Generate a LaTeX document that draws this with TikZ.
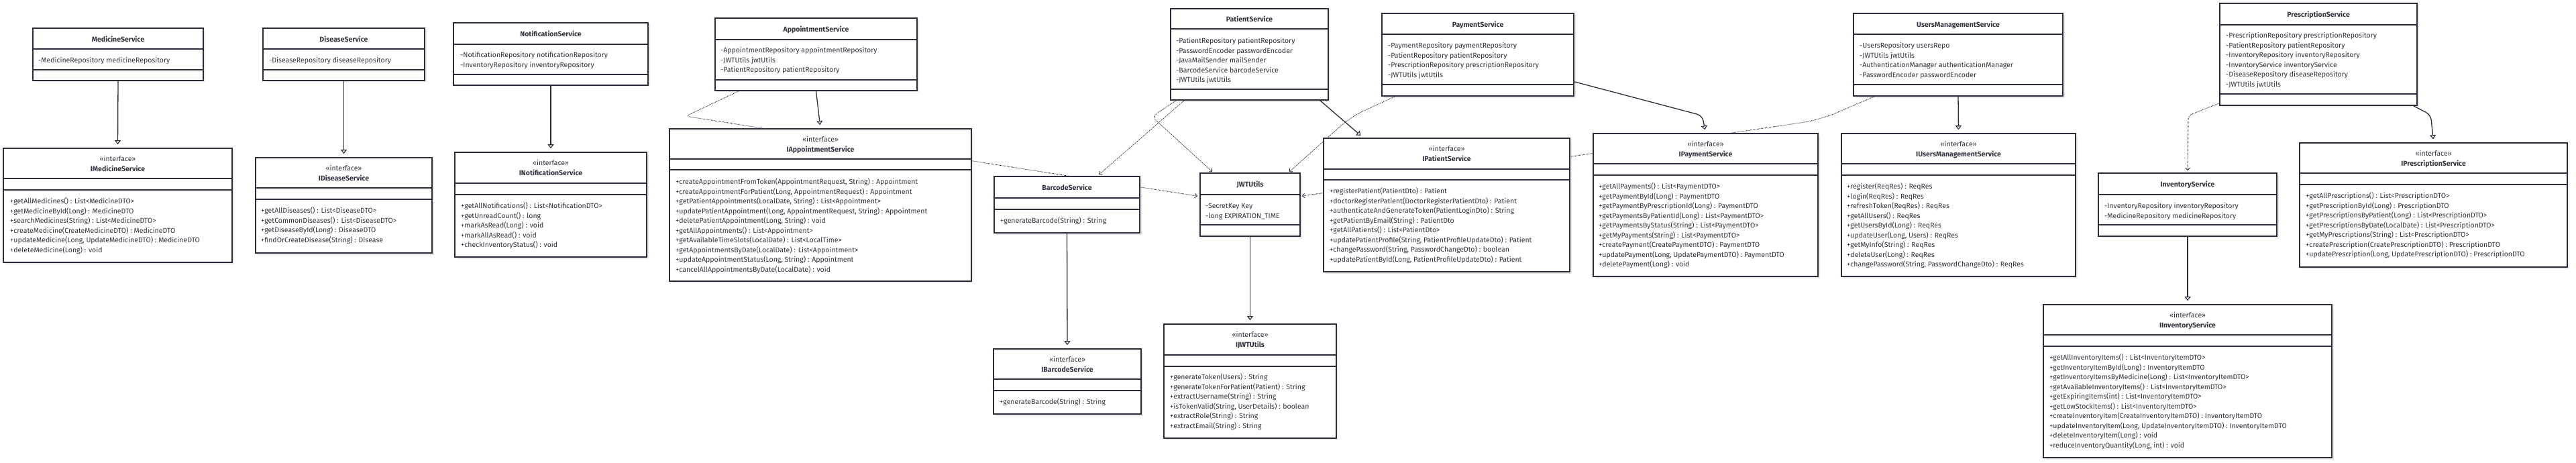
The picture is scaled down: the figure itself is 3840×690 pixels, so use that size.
\documentclass[tikz,border=0pt]{standalone}
\usepackage{fontspec}
\setmainfont{Fira Sans}
\usetikzlibrary{arrows.meta,calc,fit,shadows}
\definecolor{bd}{HTML}{2E2C3B}
\definecolor{tx}{HTML}{333340}
\pgfdeclarelayer{back}
\pgfdeclarelayer{edges}
\pgfsetlayers{back,edges,main}
\tikzset{
  box/.style={draw=bd, line width=1.6pt, fill=white, inner sep=0pt,
    drop shadow={shadow xshift=2.5pt, shadow yshift=-2.5pt, fill=black, opacity=0.08}},
  dv/.style={draw=bd, line width=1.2pt},
  txt/.style={font=\fontsize{10.5}{12}\selectfont, text=tx, inner sep=0pt,
    text height=7.2pt, text depth=0pt, anchor=west},
  ttl/.style={font=\fontsize{10.5}{12}\selectfont\bfseries, text=tx, inner sep=0pt,
    text height=7.2pt, text depth=0pt},
  ster/.style={font=\fontsize{10.5}{12}\selectfont, text=tx, inner sep=0pt,
    text height=7.2pt, text depth=0pt},
  real/.style={draw=bd, line width=1.3pt, shorten >=5pt,
    -{Triangle[open, length=6pt, width=9pt, fill=white, line width=1.1pt]}},
  dep/.style={draw=bd, line width=0.9pt, dash pattern=on 1pt off 1pt,
    -{Straight Barb[length=3.5pt, width=6.5pt, line width=0.9pt]}}
}
\newcommand{\cbox}[8]{%
  \node[box, fit={(#2,#3) (#4,#5)}] (#1) {};
  \draw[dv] (#2,#6) -- (#4,#6);
  \draw[dv] (#2,#7) -- (#4,#7);
  \node[ttl] at ({(#2+#4)/2},{(#3+#6)/2+1}) {#8};}
\newcommand{\ibox}[8]{%
  \node[box, fit={(#2,#3) (#4,#5)}] (#1) {};
  \draw[dv] (#2,#6) -- (#4,#6);
  \draw[dv] (#2,#7) -- (#4,#7);
  \node[ster] at ({(#2+#4)/2},{#3+16}) {«interface»};
  \node[ttl] at ({(#2+#4)/2},{#3+31}) {#8};}
\newcommand{\lns}[3]{\foreach \t [count=\i from 0] in {#3} {\node[txt] at (#1,{#2+\i*14.5}) {\t};}}
\begin{document}
\begin{tikzpicture}[x=1pt,y=-1pt]
\useasboundingbox (0,0) rectangle (3840,690);
\begin{pgfonlayer}{back}
\fill[white] (0,0) rectangle (3840,690);
\end{pgfonlayer}

% ---------- Medicine
\cbox{ms}{49}{42}{303}{120}{73}{104}{MedicineService}
\lns{57}{90}{-MedicineRepository medicineRepository}
\ibox{ims}{5}{221}{346}{391}{266}{283}{IMedicineService}
\lns{15}{300}{{+getAllMedicines() : List<MedicineDTO>},{+getMedicineById(Long) : MedicineDTO},{+searchMedicines(String) : List<MedicineDTO>},{+createMedicine(CreateMedicineDTO) : MedicineDTO},{+updateMedicine(Long, UpdateMedicineDTO) : MedicineDTO},{+deleteMedicine(Long) : void}}

% ---------- Disease
\cbox{ds}{392}{42}{633}{120}{73}{104}{DiseaseService}
\lns{401}{90}{-DiseaseRepository diseaseRepository}
\ibox{ids}{381}{235}{644}{377}{280}{297}{IDiseaseService}
\lns{389}{314}{{+getAllDiseases() : List<DiseaseDTO>},{+getCommonDiseases() : List<DiseaseDTO>},{+getDiseaseById(Long) : DiseaseDTO},{+findOrCreateDisease(String) : Disease}}

% ---------- Notification
\cbox{ns}{676}{34}{966}{127}{66}{111}{NotificationService}
\lns{686}{82}{-NotificationRepository notificationRepository,-InventoryRepository inventoryRepository}
\ibox{ins}{678}{227}{964}{383}{273}{290}{INotificationService}
\lns{687}{307}{{+getAllNotifications() : List<NotificationDTO>},{+getUnreadCount() : long},{+markAsRead(Long) : void},{+markAllAsRead() : void},{+checkInventoryStatus() : void}}

% ---------- Appointment
\cbox{as}{1066}{27}{1367}{135}{59}{119}{AppointmentService}
\lns{1074}{75}{-AppointmentRepository appointmentRepository,-JWTUtils jwtUtils,-PatientRepository patientRepository}
\ibox{ias}{998}{192}{1448}{419}{237}{253}{IAppointmentService}
\lns{1007}{271}{{+createAppointmentFromToken(AppointmentRequest, String) : Appointment},{+createAppointmentForPatient(Long, AppointmentRequest) : Appointment},{+getPatientAppointments(LocalDate, String) : List<Appointment>},{+updatePatientAppointment(Long, AppointmentRequest, String) : Appointment},{+deletePatientAppointment(Long, String) : void},{+getAllAppointments() : List<Appointment>},{+getAvailableTimeSlots(LocalDate) : List<LocalTime>},{+getAppointmentsByDate(LocalDate) : List<Appointment>},{+updateAppointmentStatus(Long, String) : Appointment},{+cancelAllAppointmentsByDate(LocalDate) : void}}

% ---------- Patient
\cbox{ps}{1745}{13}{1980}{149}{43}{133}{PatientService}
\lns{1753}{61}{-PatientRepository patientRepository,-PasswordEncoder passwordEncoder,-JavaMailSender mailSender,-BarcodeService barcodeService,-JWTUtils jwtUtils}
\ibox{ips}{1973}{206}{2340}{405}{252}{268}{IPatientService}
\lns{1982}{285}{{+registerPatient(PatientDto) : Patient},{+doctorRegisterPatient(DoctorRegisterPatientDto) : Patient},{+authenticateAndGenerateToken(PatientLoginDto) : String},{+getPatientByEmail(String) : PatientDto},{+getAllPatients() : List<PatientDto>},{+updatePatientProfile(String, PatientProfileUpdateDto) : Patient},{+changePassword(String, PasswordChangeDto) : boolean},{+updatePatientById(Long, PatientProfileUpdateDto) : Patient}}

% ---------- Barcode
\cbox{bs}{1482}{263}{1699}{347}{295}{312}{BarcodeService}
\lns{1491}{329}{{+generateBarcode(String) : String}}
\ibox{ibs}{1481}{520}{1701}{617}{565}{582}{IBarcodeService}
\lns{1490}{599}{{+generateBarcode(String) : String}}

% ---------- JWT
\cbox{jw}{1789}{258}{1938}{352}{290}{335}{JWTUtils}
\lns{1797}{307}{-SecretKey Key,-long EXPIRATION\_TIME}
\ibox{ijw}{1735}{483}{1992}{653}{529}{546}{IJWTUtils}
\lns{1744}{562}{{+generateToken(Users) : String},{+generateTokenForPatient(Patient) : String},{+extractUsername(String) : String},{+isTokenValid(String, UserDetails) : boolean},{+extractRole(String) : String},{+extractEmail(String) : String}}

% ---------- Payment
\cbox{pay}{2060}{20}{2346}{143}{51}{126}{PaymentService}
\lns{2069}{68}{-PaymentRepository paymentRepository,-PatientRepository patientRepository,-PrescriptionRepository prescriptionRepository,-JWTUtils jwtUtils}
\ibox{ipay}{2375}{199}{2710}{412}{244}{261}{IPaymentService}
\lns{2383}{278}{{+getAllPayments() : List<PaymentDTO>},{+getPaymentById(Long) : PaymentDTO},{+getPaymentByPrescriptionId(Long) : PaymentDTO},{+getPaymentsByPatientId(Long) : List<PaymentDTO>},{+getPaymentsByStatus(String) : List<PaymentDTO>},{+getMyPayments(String) : List<PaymentDTO>},{+createPayment(CreatePaymentDTO) : PaymentDTO},{+updatePayment(Long, UpdatePaymentDTO) : PaymentDTO},{+deletePayment(Long) : void}}

% ---------- Users management
\cbox{ums}{2763}{20}{3075}{143}{51}{126}{UsersManagementService}
\lns{2772}{68}{-UsersRepository usersRepo,-JWTUtils jwtUtils,-AuthenticationManager authenticationManager,-PasswordEncoder passwordEncoder}
\ibox{iums}{2745}{199}{3094}{412}{244}{261}{IUsersManagementService}
\lns{2753}{278}{{+register(ReqRes) : ReqRes},{+login(ReqRes) : ReqRes},{+refreshToken(ReqRes) : ReqRes},{+getAllUsers() : ReqRes},{+getUsersById(Long) : ReqRes},{+updateUser(Long, Users) : ReqRes},{+getMyInfo(String) : ReqRes},{+deleteUser(Long) : ReqRes},{+changePassword(String, PasswordChangeDto) : ReqRes}}

% ---------- Prescription
\cbox{pres}{3309}{5}{3603}{157}{37}{140}{PrescriptionService}
\lns{3318}{53}{-PrescriptionRepository prescriptionRepository,-PatientRepository patientRepository,-InventoryRepository inventoryRepository,-InventoryService inventoryService,-DiseaseRepository diseaseRepository,-JWTUtils jwtUtils}
\ibox{ipres}{3428}{213}{3827}{398}{258}{275}{IPrescriptionService}
\lns{3437}{292}{{+getAllPrescriptions() : List<PrescriptionDTO>},{+getPrescriptionById(Long) : PrescriptionDTO},{+getPrescriptionsByPatient(Long) : List<PrescriptionDTO>},{+getPrescriptionsByDate(LocalDate) : List<PrescriptionDTO>},{+getMyPrescriptions(String) : List<PrescriptionDTO>},{+createPrescription(CreatePrescriptionDTO) : PrescriptionDTO},{+updatePrescription(Long, UpdatePrescriptionDTO) : PrescriptionDTO}}

% ---------- Inventory
\cbox{inv}{3128}{258}{3394}{352}{290}{335}{InventoryService}
\lns{3137}{307}{-InventoryRepository inventoryRepository,-MedicineRepository medicineRepository}
\ibox{iinv}{3046}{454}{3476}{682}{499}{516}{IInventoryService}
\lns{3055}{533}{{+getAllInventoryItems() : List<InventoryItemDTO>},{+getInventoryItemById(Long) : InventoryItemDTO},{+getInventoryItemsByMedicine(Long) : List<InventoryItemDTO>},{+getAvailableInventoryItems() : List<InventoryItemDTO>},{+getExpiringItems(int) : List<InventoryItemDTO>},{+getLowStockItems() : List<InventoryItemDTO>},{+createInventoryItem(CreateInventoryItemDTO) : InventoryItemDTO},{+updateInventoryItem(Long, UpdateInventoryItemDTO) : InventoryItemDTO},{+deleteInventoryItem(Long) : void},{+reduceInventoryQuantity(Long, int) : void}}

% ---------- connectors (behind the boxes)
\begin{pgfonlayer}{edges}
\draw[real] (ms.south) -- (ims.north);
\draw[real] (ds.south) -- (ids.north);
\draw[real] (ns.south) -- (ins.north);
\draw[real] (as.south) -- (ias.north);
\draw[real] ($(ps.south east)+(-13,0)$) -- ($(ips.north west)+(60,0)$);
\draw[real] (bs.south) -- (ibs.north);
\draw[real] (jw.south) -- (ijw.north);
\draw[real, rounded corners=8pt] ($(pay.south east)+(0,-22)$) -- ($(ipay.north)+(-5,-26)$) -- (ipay.north);
\draw[real] (ums.south) -- (iums.north);
\draw[real, rounded corners=8pt] ($(pres.south east)+(-6,0)$) -- ($(ipres.north)+(-4,-41)$) -- (ipres.north);
\draw[real] (inv.south) -- (iinv.north);

\draw[dep, rounded corners=6pt] ($(as.south west)+(36,0)$) -- ($(ias.north west)+(25,-18)$) -- ($(jw.north west)+(-3,35)$);
\draw[dep] ($(ps.south west)+(21,0)$) -- ($(bs.north west)+(157,-2)$);
\draw[dep, rounded corners=8pt] ($(ps.south west)+(9,0)$) -- ($(ps.south west)+(-27,24)$) -- ($(jw.north west)+(19,-1)$);
\draw[dep, rounded corners=20pt] ($(pay.south west)+(20,0)$) -- ($(pay.south west)+(-45,30)$) -- ($(jw.north east)+(-17,-1)$);
\draw[dep, rounded corners=25pt] ($(ums.south west)+(32,0)$) -- ($(ums.south west)+(-50,35)$) -- ($(jw.north east)+(2,35)$);
\draw[dep, rounded corners=6pt] ($(pres.south west)+(0,-4)$) -- ($(inv.north)+(1,-85)$) -- ($(inv.north)+(0,-3)$);
\end{pgfonlayer}
\end{tikzpicture}
\end{document}
